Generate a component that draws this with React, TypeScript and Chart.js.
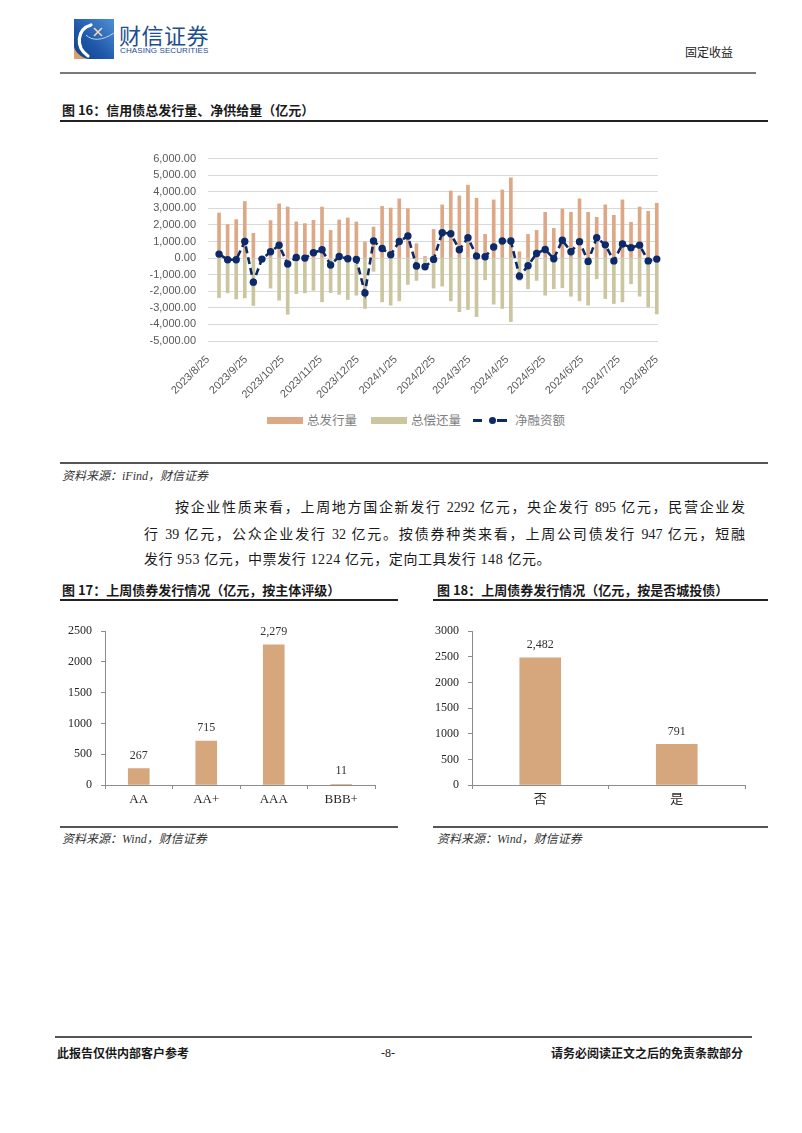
import React, { useEffect, useRef } from "react";
import { Chart, registerables } from "chart.js";
Chart.register(...registerables);

// ---------- Figure 16 data (亿元) ----------
const weekDates = [
  "2023/9/3", "2023/9/10", "2023/9/17", "2023/9/24", "2023/10/1", "2023/10/8", "2023/10/15", "2023/10/22", "2023/10/29",
  "2023/11/5", "2023/11/12", "2023/11/19", "2023/11/26", "2023/12/3", "2023/12/10", "2023/12/17", "2023/12/24", "2023/12/31",
  "2024/1/7", "2024/1/14", "2024/1/21", "2024/1/28", "2024/2/4", "2024/2/11", "2024/2/18", "2024/2/25",
  "2024/3/3", "2024/3/10", "2024/3/17", "2024/3/24", "2024/3/31", "2024/4/7", "2024/4/14", "2024/4/21", "2024/4/28",
  "2024/5/5", "2024/5/12", "2024/5/19", "2024/5/26", "2024/6/2", "2024/6/9", "2024/6/16", "2024/6/23", "2024/6/30",
  "2024/7/7", "2024/7/14", "2024/7/21", "2024/7/28", "2024/8/4", "2024/8/11", "2024/8/18", "2024/8/25",
];
const totalIssue = [
  2720, 2020, 2320, 3410, 1490, 50, 2260, 3270, 3080, 2180,
  2080, 2280, 3080, 1670, 2300, 2420, 2180, 970, 1870, 3120,
  3020, 3570, 2980, 870, 100, 1730, 3210, 4050, 3750, 4400,
  3610, 1430, 3510, 4110, 4840, 380, 1430, 1670, 2760, 1790,
  2960, 2760, 3570, 2760, 2460, 3210, 2580, 3510, 2160, 3080,
  2820, 3310,
];
const totalRepay = [
  -2380, -2100, -2460, -2400, -2860, -100, -1810, -2540, -3390, -2140,
  -2100, -1940, -2640, -2080, -2180, -2500, -2240, -3040, -800, -2640,
  -2840, -2580, -1590, -1350, -600, -1810, -1690, -2580, -3230, -3100,
  -3530, -1310, -2780, -3040, -3830, -1350, -1850, -1350, -2240, -1850,
  -1790, -2300, -2580, -2840, -1250, -2440, -2740, -2640, -1550, -2300,
  -2940, -3370,
];
const netFinancing = [
  240, -100, -100, 1000, -1450, -60, 380, 770, -360, 40,
  0, 320, 500, -420, 100, -40, -80, -2100, 1030, 580,
  200, 1000, 1330, -480, -520, -80, 1530, 1470, 500, 1230,
  120, 80, 670, 1030, 1030, -1090, -460, 280, 520, -40,
  1080, 380, 990, -200, 1230, 800, -170, 850, 630, 780,
  -170, -60,
];
const axisStart = "2023/8/25";
const xTickLabels = [
  "2023/8/25", "2023/9/25", "2023/10/25", "2023/11/25", "2023/12/25", "2024/1/25", "2024/2/25",
  "2024/3/25", "2024/4/25", "2024/5/25", "2024/6/25", "2024/7/25", "2024/8/25",
];
const seriesNames = ["总发行量", "总偿还量", "净融资额"];

// ---------- Figure 17 / 18 data ----------
const ratingCats = ["AA", "AA+", "AAA", "BBB+"];
const ratingVals = [267, 715, 2279, 11];
const lgfvCats = ["否", "是"];
const lgfvVals = [2482, 791];

const ORANGE = "#dca886";
const KHAKI = "#cbc69f";
const NAVY = "#0c2a69";
const BAR2 = "#d6a67c";

const SERIF = '"Liberation Serif", "Noto Sans CJK SC", serif';
const CJK = '"Noto Sans CJK SC", "Liberation Serif", sans-serif';

function dayIndex(s: string): number {
  const p = (t: string) => {
    const [y, m, d] = t.split("/").map(Number);
    return Date.UTC(y, m - 1, d);
  };
  return Math.round((p(s) - p(axisStart)) / 86400000);
}

function MainChart() {
  const ref = useRef<HTMLCanvasElement>(null);
  useEffect(() => {
    const ctx = ref.current!;
    const tickPos = xTickLabels.map(dayIndex);
    const chart = new Chart(ctx, {
      type: "bar",
      data: {
        datasets: [
          {
            type: "line",
            label: seriesNames[2],
            data: weekDates.map((d, i) => ({ x: dayIndex(d), y: netFinancing[i] })),
            borderColor: NAVY,
            backgroundColor: NAVY,
            borderWidth: 2.6,
            borderDash: [7, 4],
            pointRadius: 3.7,
            pointBackgroundColor: NAVY,
            pointBorderWidth: 0,
            order: 0,
            clip: false,
          } as any,
          {
            type: "bar",
            label: seriesNames[0],
            data: weekDates.map((d, i) => ({ x: dayIndex(d), y: totalIssue[i] })),
            backgroundColor: ORANGE,
            barThickness: 3,
            grouped: false,
            order: 1,
            clip: false,
          } as any,
          {
            type: "bar",
            label: seriesNames[1],
            data: weekDates.map((d, i) => ({ x: dayIndex(d), y: totalRepay[i] })),
            backgroundColor: KHAKI,
            barThickness: 3,
            grouped: false,
            order: 1,
            clip: false,
          } as any,
        ],
      },
      options: {
        animation: false,
        responsive: false,
        maintainAspectRatio: false,
        layout: { padding: { top: 16, right: 20, left: 0, bottom: 0 } },
        plugins: { legend: { display: false }, tooltip: { enabled: false } },
        scales: {
          x: {
            type: "linear",
            min: 0,
            max: 367,
            offset: false,
            grid: { display: false },
            border: { display: false },
            afterBuildTicks: (scale: any) => {
              scale.ticks = tickPos.map((v) => ({ value: v }));
            },
            afterFit: (scale: any) => {
              scale.height = 69;
            },
            ticks: {
              autoSkip: false,
              maxRotation: 45,
              minRotation: 45,
              padding: 4,
              color: "#595959",
              font: { family: '"Liberation Sans", sans-serif', size: 11 },
              callback: (v: any) => {
                const i = tickPos.indexOf(Number(v));
                return i >= 0 ? xTickLabels[i] : "";
              },
            },
          },
          y: {
            min: -5000,
            max: 6000,
            grid: { color: "#d9d9d9", lineWidth: 1, drawTicks: false },
            border: { display: false },
            afterFit: (scale: any) => {
              scale.width = 148;
            },
            ticks: {
              stepSize: 1000,
              padding: 12,
              color: "#595959",
              font: { family: '"Liberation Sans", sans-serif', size: 11 },
              callback: (v: any) =>
                Number(v).toLocaleString("en-US", { minimumFractionDigits: 2, maximumFractionDigits: 2 }),
            },
          },
        },
      } as any,
    });
    return () => chart.destroy();
  }, []);
  return (
    <canvas
      ref={ref}
      width={618}
      height={270}
      style={{ position: "absolute", left: 60, top: 140, width: 618, height: 270 }}
    />
  );
}

const dataLabelPlugin = {
  id: "dataLabels",
  afterDatasetsDraw(chart: any) {
    const ctx = chart.ctx;
    const meta = chart.getDatasetMeta(0);
    const vals = chart.data.datasets[0].data as number[];
    ctx.save();
    ctx.fillStyle = "#333333";
    ctx.font = `12px ${SERIF}`;
    ctx.textAlign = "center";
    ctx.textBaseline = "middle";
    meta.data.forEach((bar: any, i: number) => {
      ctx.fillText(Number(vals[i]).toLocaleString("en-US"), bar.x, bar.y - 13);
    });
    ctx.restore();
  },
};

function SmallBarChart(props: {
  cats: string[];
  vals: number[];
  max: number;
  left: number;
  width: number;
  yWidth: number;
  barW: number;
}) {
  const ref = useRef<HTMLCanvasElement>(null);
  useEffect(() => {
    const chart = new Chart(ref.current!, {
      type: "bar",
      data: {
        labels: props.cats,
        datasets: [
          {
            data: props.vals,
            backgroundColor: BAR2,
            barThickness: props.barW,
          },
        ],
      },
      options: {
        animation: false,
        responsive: false,
        maintainAspectRatio: false,
        layout: { padding: { top: 14, right: 15, left: 0, bottom: 0 } },
        plugins: { legend: { display: false }, tooltip: { enabled: false } },
        scales: {
          x: {
            grid: { drawOnChartArea: false, drawTicks: true, tickLength: 4, color: "#8c8c8c", offset: true },
            border: { display: true, color: "#8c8c8c" },
            afterFit: (s: any) => {
              s.height = 35;
            },
            ticks: { padding: 3, color: "#262626", font: { family: SERIF, size: 13 } },
          },
          y: {
            min: 0,
            max: props.max,
            grid: { drawOnChartArea: false, drawTicks: true, tickLength: 4, color: "#8c8c8c" },
            border: { display: true, color: "#8c8c8c" },
            afterFit: (s: any) => {
              s.width = props.yWidth;
            },
            ticks: {
              stepSize: 500,
              padding: 9,
              color: "#262626",
              font: { family: SERIF, size: 12 },
              callback: (v: any) => String(v),
            },
          },
        },
      } as any,
      plugins: [dataLabelPlugin],
    });
    return () => chart.destroy();
  }, []);
  return (
    <canvas
      ref={ref}
      width={props.width}
      height={205}
      style={{ position: "absolute", left: props.left, top: 615, width: props.width, height: 205 }}
    />
  );
}

function T(p: {
  x: number;
  y: number;
  size: number;
  bold?: boolean;
  italic?: boolean;
  color?: string;
  font?: string;
  align?: "left" | "right" | "center";
  w?: number;
  children: React.ReactNode;
  style?: React.CSSProperties;
}) {
  const w = p.w ?? 600;
  let left = p.x;
  if (p.align === "right") left = p.x - w;
  if (p.align === "center") left = p.x - w / 2;
  return (
    <div
      style={{
        position: "absolute",
        left,
        top: p.y - p.size * 0.7,
        width: w,
        height: p.size * 1.4,
        lineHeight: `${p.size * 1.4}px`,
        fontSize: p.size,
        fontFamily: p.font ?? SERIF,
        fontWeight: p.bold ? 700 : 400,
        fontStyle: p.italic ? "italic" : "normal",
        color: p.color ?? "#1a1a1a",
        textAlign: p.align ?? "left",
        whiteSpace: "nowrap",
        ...p.style,
      }}
    >
      {p.children}
    </div>
  );
}

function HLine(p: { x1: number; x2: number; y: number; h?: number; color?: string }) {
  const h = p.h ?? 1.5;
  return (
    <div
      style={{
        position: "absolute",
        left: p.x1,
        top: p.y - h / 2,
        width: p.x2 - p.x1,
        height: h,
        background: p.color ?? "#333",
      }}
    />
  );
}

function Logo() {
  return (
    <svg width={40} height={40} style={{ position: "absolute", left: 74, top: 19 }} viewBox="0 0 40 40">
      <defs>
        <linearGradient id="lg" x1="1" y1="0" x2="0" y2="1">
          <stop offset="0" stopColor="#4f8fd6" />
          <stop offset="0.6" stopColor="#1d56a8" />
          <stop offset="1" stopColor="#123f86" />
        </linearGradient>
      </defs>
      <rect x="0" y="0" width="40" height="40" fill="url(#lg)" />
      <path d="M0 28 L0 40 L14 40 C 7 38, 2 34, 0 28 Z" fill="#d9a36c" />
      <path d="M17 6 C 3 10, 1 28, 14 37" stroke="#ffffff" strokeWidth="3.2" fill="none" strokeLinecap="round" />
      <path d="M20 9 L28 17 M28 9 L20 17" stroke="#f3d9b6" strokeWidth="1.6" />
      <path d="M12 16 C 18 22, 28 22, 40 14" stroke="#bcd5f2" strokeWidth="1" fill="none" />
    </svg>
  );
}

function LegendMain() {
  const txt: React.CSSProperties = {
    position: "absolute",
    top: 411,
    fontSize: 12.5,
    lineHeight: "18px",
    fontFamily: CJK,
    color: "#7f7f7f",
    whiteSpace: "nowrap",
  };
  return (
    <>
      <div style={{ position: "absolute", left: 267, top: 417, width: 36, height: 7, background: ORANGE }} />
      <div style={{ ...txt, left: 307 }}>{seriesNames[0]}</div>
      <div style={{ position: "absolute", left: 371, top: 417, width: 36, height: 7, background: KHAKI }} />
      <div style={{ ...txt, left: 411 }}>{seriesNames[1]}</div>
      <div style={{ position: "absolute", left: 473, top: 419, width: 9, height: 3, background: NAVY }} />
      <div style={{ position: "absolute", left: 497, top: 419, width: 10, height: 3, background: NAVY }} />
      <div
        style={{ position: "absolute", left: 489, top: 417, width: 7, height: 7, borderRadius: 4, background: NAVY }}
      />
      <div style={{ ...txt, left: 515 }}>{seriesNames[2]}</div>
    </>
  );
}

export default function App() {
  const para: React.CSSProperties = {
    position: "absolute",
    fontSize: 14,
    lineHeight: "20px",
    fontFamily: SERIF,
    color: "#1a1a1a",
    whiteSpace: "nowrap",
  };
  return (
    <div
      style={{
        position: "absolute",
        left: 0,
        top: 0,
        width: 802,
        height: 1133,
        background: "#ffffff",
        overflow: "hidden",
      }}
    >
      {/* header */}
      <Logo />
      <T x={119} y={34} size={22} font={CJK} color="#1d4e8f" style={{ letterSpacing: 0.5 }}>
        财信证券
      </T>
      <T x={120} y={51} size={8} font='"Liberation Sans", sans-serif' color="#1d4e8f" style={{ letterSpacing: 0.1 }}>
        CHASING SECURITIES
      </T>
      <T x={733} y={52} size={12} font={CJK} align="right" w={100} color="#222">
        固定收益
      </T>
      <HLine x1={60} x2={756} y={73} h={2} color="#7a7a7a" />

      {/* figure 16 */}
      <T x={62} y={110} size={13} bold font={CJK}>
        图 16：信用债总发行量、净供给量（亿元）
      </T>
      <HLine x1={60} x2={768} y={121} h={1.5} color="#222" />
      <MainChart />
      <LegendMain />
      <HLine x1={60} x2={768} y={463} h={2} color="#555" />
      <T x={62} y={476} size={12} italic font={SERIF} color="#333">
        资料来源：iFind，财信证券
      </T>

      {/* paragraph */}
      <div style={{ ...para, left: 175, top: 498, width: 570, textAlign: "justify", textAlignLast: "justify" }}>
        按企业性质来看，上周地方国企新发行 2292 亿元，央企发行 895 亿元，民营企业发
      </div>
      <div style={{ ...para, left: 144, top: 525, width: 601, textAlign: "justify", textAlignLast: "justify" }}>
        行 39 亿元，公众企业发行 32 亿元。按债券种类来看，上周公司债发行 947 亿元，短融
      </div>
      <div style={{ ...para, left: 144, top: 550, letterSpacing: 0.6 }}>
        发行 953 亿元，中票发行 1224 亿元，定向工具发行 148 亿元。
      </div>

      {/* figure 17 */}
      <T x={62} y={590} size={13} bold font={CJK}>
        图 17：上周债券发行情况（亿元，按主体评级）
      </T>
      <HLine x1={60} x2={398} y={600} h={1.5} color="#222" />
      <SmallBarChart cats={ratingCats} vals={ratingVals} max={2500} left={60} width={330} yWidth={45} barW={21} />
      <HLine x1={60} x2={398} y={827} h={2} color="#555" />
      <T x={62} y={839} size={12} italic font={SERIF} color="#333">
        资料来源：Wind，财信证券
      </T>

      {/* figure 18 */}
      <T x={437} y={590} size={13} bold font={CJK}>
        图 18：上周债券发行情况（亿元，按是否城投债）
      </T>
      <HLine x1={433} x2={768} y={600} h={1.5} color="#222" />
      <SmallBarChart cats={lgfvCats} vals={lgfvVals} max={3000} left={420} width={340} yWidth={52} barW={41} />
      <HLine x1={433} x2={768} y={827} h={2} color="#555" />
      <T x={437} y={839} size={12} italic font={SERIF} color="#333">
        资料来源：Wind，财信证券
      </T>

      {/* footer */}
      <HLine x1={55} x2={752} y={1037} h={1.5} color="#555" />
      <T x={57} y={1053} size={12} bold font={CJK}>
        此报告仅供内部客户参考
      </T>
      <T x={388} y={1053} size={12} align="center" w={60}>
        -8-
      </T>
      <T x={743} y={1053} size={12} bold font={CJK} align="right" w={300}>
        请务必阅读正文之后的免责条款部分
      </T>
    </div>
  );
}
